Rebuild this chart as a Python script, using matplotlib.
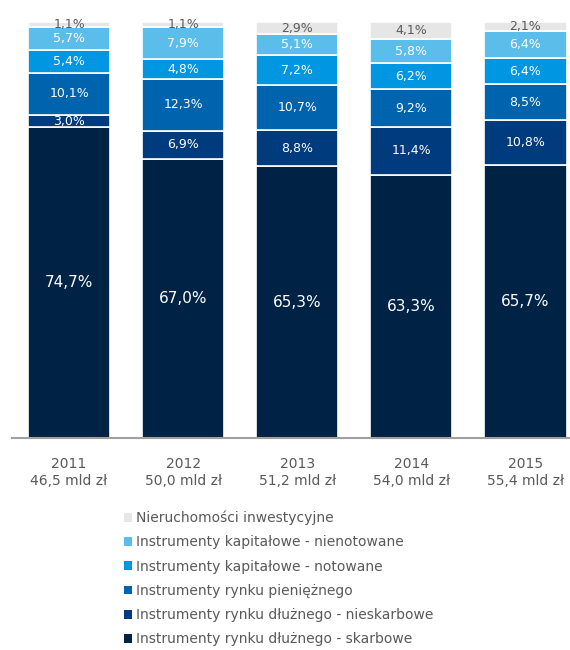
import numpy as np
import matplotlib.pyplot as plt
from matplotlib.patches import Patch

years = ["2011", "2012", "2013", "2014", "2015"]
totals = ["46,5 mld zł", "50,0 mld zł", "51,2 mld zł", "54,0 mld zł", "55,4 mld zł"]

# bottom to top
skarbowe = [74.7, 67.0, 65.3, 63.3, 65.7]
nieskarbowe = [3.0, 6.9, 8.8, 11.4, 10.8]
pieniezny = [10.1, 12.3, 10.7, 9.2, 8.5]
notowane = [5.4, 4.8, 7.2, 6.2, 6.4]
nienotowane = [5.7, 7.9, 5.1, 5.8, 6.4]
nieruchomosci = [1.1, 1.1, 2.9, 4.1, 2.1]

series = [skarbowe, nieskarbowe, pieniezny, notowane, nienotowane, nieruchomosci]
names = ["Instrumenty rynku dłużnego - skarbowe",
         "Instrumenty rynku dłużnego - nieskarbowe",
         "Instrumenty rynku pieniężnego",
         "Instrumenty kapitałowe - notowane",
         "Instrumenty kapitałowe - nienotowane",
         "Nieruchomości inwestycyjne"]
colors = ["#002345", "#003B7E", "#0063AE", "#0096E1", "#5BBDEA", "#E6E6E6"]
txt_colors = ["white", "white", "white", "white", "white", "#595959"]

fig = plt.figure(figsize=(5.7, 6.5), dpi=100)
ax = fig.add_axes([12/570, 1 - 438/650, 558/570, 416/650])

x = np.arange(len(years))
bottom = np.zeros(len(years))
for i, s in enumerate(series):
    vals = np.array(s)
    ax.bar(x, vals, 0.72, bottom=bottom, color=colors[i], edgecolor="white", linewidth=1.2)
    for j in range(len(years)):
        fs = 11 if i == 0 else 9
        ax.text(x[j], bottom[j] + vals[j] / 2, f"{vals[j]:.1f}%".replace(".", ","),
                ha="center", va="center", color=txt_colors[i], fontsize=fs)
    bottom += vals

ax.set_xlim(-0.5, 4.39)
ax.set_ylim(0, 100)
ax.set_yticks([])
ax.set_xticks(x)
ax.set_xticklabels([y + "\n" + t for y, t in zip(years, totals)], color="#595959", fontsize=10)
ax.tick_params(axis="x", length=0, pad=14)
for sp in ["top", "left", "right"]:
    ax.spines[sp].set_visible(False)
ax.spines["bottom"].set_color("#A0A0A0")
ax.spines["bottom"].set_linewidth(1.5)

handles = [Patch(facecolor=colors[i], edgecolor="none") for i in range(5, -1, -1)]
labels = [names[i] for i in range(5, -1, -1)]
fig.legend(handles, labels, loc="upper left", bbox_to_anchor=(111/570, 1 - 498/650),
           frameon=False, fontsize=10, handlelength=0.6, handleheight=0.6,
           handletextpad=0.3, labelspacing=0.74, labelcolor="#595959")

fig.savefig("out.png", dpi=100)
